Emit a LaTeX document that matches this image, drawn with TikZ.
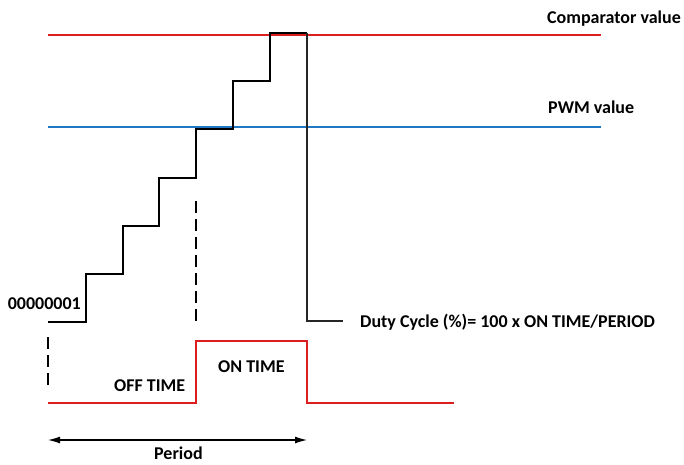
\documentclass[tikz,border=0pt]{standalone}
\usepackage{fontspec}
\setmainfont{Carlito}
\usetikzlibrary{arrows.meta}
\definecolor{cmpred}{RGB}{220,30,30}
\definecolor{pwmblue}{RGB}{30,120,195}
\begin{document}
\begin{tikzpicture}[x=1pt,y=-1pt,
  lbl/.style={font=\bfseries\fontsize{18}{20}\selectfont, inner sep=0pt},
  stair/.style={line width=1.6pt, black},
  level/.style={line width=1.3pt},
  guide/.style={line width=1.2pt, dash pattern=on 12pt off 6pt},
  outwave/.style={line width=1.3pt, cmpred}]
\useasboundingbox (0,0) rectangle (684,464);

% reference levels
\coordinate (cL) at (48,35);  \coordinate (cR) at (601,35);
\coordinate (pL) at (48,127); \coordinate (pR) at (601,127);
\draw[level, cmpred] (cL) -- (cR);
\draw[level, pwmblue] (pL) -- (pR);
\node[lbl, anchor=base west] (cmp) at (547,23) {Comparator value};
\node[lbl, anchor=base west] (pwm) at (548,113) {PWM value};

% counter staircase
\coordinate (s0) at (48,322);
\coordinate (s1) at (86,322);  \coordinate (s1t) at (86,274);
\coordinate (s2) at (123,274); \coordinate (s2t) at (123,226);
\coordinate (s3) at (159,226); \coordinate (s3t) at (159,178);
\coordinate (s4) at (196,178); \coordinate (s4t) at (196,129);
\coordinate (s5) at (233,129); \coordinate (s5t) at (233,81);
\coordinate (s6) at (270,81);  \coordinate (s6t) at (270,33);
\coordinate (s7) at (307,33);  \coordinate (s7b) at (307,321);
\coordinate (s8) at (343,321);
\draw[stair] (s0) -- (s1) -- (s1t) -- (s2) -- (s2t) -- (s3) -- (s3t) -- (s4)
  -- (s4t) -- (s5) -- (s5t) -- (s6) -- (s6t) -- (s7);
\draw[line width=1.2pt, black!85] (s7) -- (s7b) -- (s8);
\node[lbl, anchor=base east] (start) at (81,309) {00000001};
\node[lbl, anchor=base west] (duty) at (360,327) {Duty Cycle (\%)= 100 x ON TIME/PERIOD};

% guide marks
\coordinate (g1a) at (196,201); \coordinate (g1b) at (196,321);
\coordinate (g2a) at (48,337);  \coordinate (g2b) at (48,385);
\draw[guide] (g1a) -- (g1b);
\draw[guide] (g2a) -- (g2b);

% output waveform
\coordinate (w0) at (48,403);  \coordinate (w1) at (196,403);
\coordinate (w2) at (196,341); \coordinate (w3) at (307,341);
\coordinate (w4) at (307,403); \coordinate (w5) at (454,403);
\draw[outwave] (w0) -- (w1) -- (w2) -- (w3) -- (w4) -- (w5);
\node[lbl, anchor=base west] (off) at (114,391) {OFF TIME};
\node[lbl, anchor=base west] (on) at (218,372) {ON TIME};

% period
\coordinate (a0) at (48,440); \coordinate (a1) at (307,440);
\draw[line width=1.2pt, {Latex[length=12pt,width=7pt]}-{Latex[length=12pt,width=7pt]}] (a0) -- (a1);
\node[lbl, anchor=base west] (period) at (154,459) {Period};
\end{tikzpicture}
\end{document}
